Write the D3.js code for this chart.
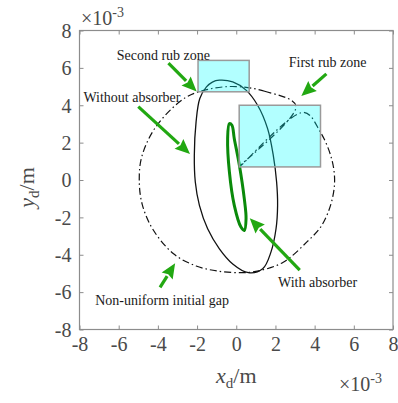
<!DOCTYPE html>
<html>
<head>
<meta charset="utf-8">
<script src="https://cdn.jsdelivr.net/npm/d3@7"></script>
<style>
  html, body { margin: 0; padding: 0; background: #fff; }
  svg { display: block; }
  text { font-family: "Liberation Serif", "Times New Roman", serif; }
</style>
</head>
<body>
<svg id="chart" width="398" height="403"></svg>
<script>
// Orbit of the disc centre (units of 1e-3 m)
const withoutAbsorber = [
  [-0.86, 5.34], [-0.18, 5.25], [0.50, 4.81], [1.09, 4.00], [1.60, 2.75],
  [1.89, 1.32], [2.06, -0.11], [2.11, -1.36], [2.03, -2.61], [1.77, -3.86],
  [1.35, -4.75], [0.62, -4.96], [-0.18, -4.49], [-0.86, -3.68],
  [-1.46, -2.61], [-1.88, -1.36], [-2.09, -0.11], [-2.14, 1.32], [-2.05, 3.11],
  [-1.86, 4.36], [-1.52, 4.98], [-1.22, 5.24]
];
const withAbsorber = [
  [-0.35, 3.02], [-0.22, 2.93], [-0.10, 2.21], [0.16, 0.79], [0.41, -1.00],
  [0.50, -2.07], [0.41, -2.70], [0.24, -2.52], [-0.10, -1.36], [-0.35, 0.43],
  [-0.44, 2.21]
];
// Non-uniform initial gap boundary, with its notch into the first rub zone
const initialGap = [
  [0.00, 5.00], [1.45, 4.75], [3.05, 3.96], [0.20, 0.75], [3.45, 3.62],
  [4.30, 2.55], [4.85, 1.20], [5.02, 0.00], [4.85, -1.22], [4.35, -2.45],
  [3.62, -3.30], [2.40, -4.40], [1.15, -4.86], [0.30, -4.96], [-0.90, -4.88],
  [-2.05, -4.60], [-3.20, -3.95], [-4.25, -2.65], [-4.80, -1.30], [-4.95, 0.00],
  [-4.82, 1.25], [-4.10, 2.85], [-2.60, 4.40], [-1.30, 4.88]
];
// Rub zones: [xMin, xMax, yMin, yMax]
const rubZones = [
  [0.15, 4.30, 0.70, 4.00],
  [-1.95, 0.66, 4.72, 6.40]
];
const tickValues = [-8, -6, -4, -2, 0, 2, 4, 6, 8];
const tickLabels = ["-8", "-6", "-4", "-2", "0", "2", "4", "6", "8"];
// Annotations: label, label anchor (data), arrow tail, arrow tip
const annotationLabels = ["Second rub zone", "First rub zone", "Without absorber", "Non-uniform initial gap", "With absorber"];
const annotationAnchors = [[-6.1, 6.43], [2.68, 6.06], [-7.8, 4.2], [-7.2, -6.7], [2.13, -5.75]];
const arrowTails = [[-3.46, 6.25], [4.60, 5.68], [-5.00, 3.93], [-3.89, -5.75], [3.24, -4.82]];
const arrowTips = [[-2.02, 4.73], [3.32, 4.50], [-2.36, 1.39], [-3.12, -4.46], [0.69, -2.05]];

const svg = d3.select("#chart");
const plotLeft = 79.5, plotRight = 393, plotTop = 30.5, plotBottom = 329.5;
const x = d3.scaleLinear().domain([-8, 8]).range([plotLeft, plotRight]);
const y = d3.scaleLinear().domain([-8, 8]).range([plotBottom, plotTop]);

const axisColor = "#8c8c8c";
const labelColor = "#4a4a4a";

// Frame
svg.append("rect")
  .attr("x", plotLeft).attr("y", plotTop)
  .attr("width", plotRight - plotLeft).attr("height", plotBottom - plotTop)
  .attr("fill", "none").attr("stroke", axisColor).attr("stroke-width", 1.2);

// Inward ticks on all four sides
const tickLen = 4;
const axes = [
  d3.axisBottom(x).tickSizeInner(-tickLen),
  d3.axisTop(x).tickSizeInner(-tickLen),
  d3.axisLeft(y).tickSizeInner(-tickLen),
  d3.axisRight(y).tickSizeInner(-tickLen)
];
const axisPos = [[0, plotBottom], [0, plotTop], [plotLeft, 0], [plotRight, 0]];
axes.forEach((ax, i) => {
  ax.tickValues(tickValues).tickSizeOuter(0).tickFormat((d, j) => tickLabels[j]);
  const g = svg.append("g")
    .attr("transform", `translate(${axisPos[i][0]},${axisPos[i][1]})`)
    .call(ax)
    .attr("font-family", "Liberation Serif");
  g.select(".domain").remove();
  g.selectAll(".tick line").attr("stroke", axisColor).attr("stroke-width", 1);
  if (i === 0) {
    g.selectAll(".tick text")
      .attr("fill", labelColor).attr("font-size", 20)
      .attr("dy", null).attr("y", 21);
  } else if (i === 2) {
    g.selectAll(".tick text")
      .attr("fill", labelColor).attr("font-size", 20)
      .attr("x", -8).attr("dy", "0.34em");
  } else {
    g.selectAll(".tick text").remove();
  }
});

// Exponent markers
function exponent(px, py) {
  const t = svg.append("text").attr("x", px).attr("y", py)
    .attr("fill", labelColor).attr("font-size", 20);
  t.append("tspan").text("\u00d710");
  t.append("tspan").attr("dy", -8).attr("font-size", 14).text("-3");
}
exponent(81, 25);
exponent(339, 391);

// Axis titles
const xt = svg.append("text")
  .attr("x", x(0)).attr("y", 383)
  .attr("text-anchor", "middle").attr("fill", labelColor).attr("font-size", 22);
xt.append("tspan").attr("font-style", "italic").text("x");
xt.append("tspan").attr("dy", 5).attr("font-size", 15).text("d");
xt.append("tspan").attr("dy", -5).text("/m");

const yt = svg.append("text")
  .attr("transform", `translate(34,${y(-0.4)}) rotate(-90)`)
  .attr("text-anchor", "middle").attr("fill", labelColor).attr("font-size", 22);
yt.append("tspan").attr("font-style", "italic").text("y");
yt.append("tspan").attr("dy", 5).attr("font-size", 15).text("d");
yt.append("tspan").attr("dy", -5).text("/m");

const closedLine = d3.line().x(d => x(d[0])).y(d => y(d[1])).curve(d3.curveCatmullRomClosed.alpha(0.5));

// Initial gap (dash-dot)
svg.append("path")
  .datum(initialGap)
  .attr("d", closedLine)
  .attr("fill", "none").attr("stroke", "#111").attr("stroke-width", 1.2)
  .attr("stroke-dasharray", "7,3,1.5,3");

// Orbit without absorber
svg.append("path")
  .datum(withoutAbsorber)
  .attr("d", closedLine)
  .attr("fill", "none").attr("stroke", "#111").attr("stroke-width", 1.3);

// Orbit with absorber
svg.append("path")
  .datum(withAbsorber)
  .attr("d", closedLine)
  .attr("fill", "none").attr("stroke", "#0a8a0a").attr("stroke-width", 3);

// Rub zones (translucent cyan over the orbits)
svg.selectAll("rect.zone")
  .data(rubZones).enter().append("rect")
  .attr("class", "zone")
  .attr("x", d => x(d[0])).attr("y", d => y(d[3]))
  .attr("width", d => x(d[1]) - x(d[0])).attr("height", d => y(d[2]) - y(d[3]))
  .attr("fill", "#00ffff").attr("fill-opacity", 0.3)
  .attr("stroke", "#9a9a9a").attr("stroke-width", 1.5);

// Arrows
const arrowColor = "#22a812";
arrowTails.forEach((tail, i) => {
  const x0 = x(tail[0]), y0 = y(tail[1]);
  const x1 = x(arrowTips[i][0]), y1 = y(arrowTips[i][1]);
  const ang = Math.atan2(y1 - y0, x1 - x0);
  const headLen = 15, headHalf = 6.5;
  const bx = x1 - headLen * Math.cos(ang), by = y1 - headLen * Math.sin(ang);
  svg.append("line")
    .attr("x1", x0).attr("y1", y0).attr("x2", bx).attr("y2", by)
    .attr("stroke", arrowColor).attr("stroke-width", 3.2);
  const px = -Math.sin(ang) * headHalf, py = Math.cos(ang) * headHalf;
  svg.append("path")
    .attr("d", `M${x1},${y1}L${bx + px},${by + py}L${bx + 2 * Math.cos(ang)},${by + 2 * Math.sin(ang)}L${bx - px},${by - py}Z`)
    .attr("fill", arrowColor);
});

// Annotation labels
annotationLabels.forEach((txt, i) => {
  svg.append("text")
    .attr("x", x(annotationAnchors[i][0])).attr("y", y(annotationAnchors[i][1]))
    .attr("fill", "#1a1a1a").attr("font-size", 14).text(txt);
});
</script>
</body>
</html>
